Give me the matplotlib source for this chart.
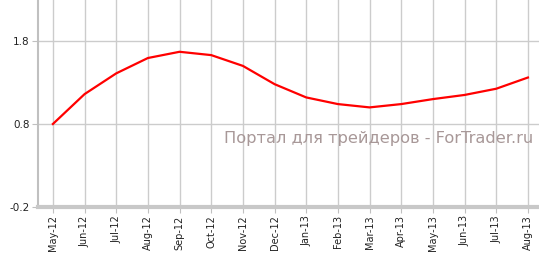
import matplotlib
matplotlib.use('Agg')
import matplotlib.pyplot as plt

months = ['May-12', 'Jun-12', 'Jul-12', 'Aug-12', 'Sep-12', 'Oct-12', 'Nov-12', 'Dec-12',
          'Jan-13', 'Feb-13', 'Mar-13', 'Apr-13', 'May-13', 'Jun-13', 'Jul-13', 'Aug-13']
values = [0.80, 1.16, 1.41, 1.595, 1.67, 1.63, 1.50, 1.28,
          1.12, 1.04, 1.00, 1.04, 1.10, 1.15, 1.225, 1.36]
yticks = [-0.2, 0.8, 1.8]

fig = plt.figure(figsize=(5.39, 2.58), dpi=100)
ax = fig.add_axes([38 / 539, 1 - 207 / 258, 1 - 38 / 539, 207 / 258])

x = range(len(months))
ax.plot(x, values, color='#ff0000', linewidth=1.6, solid_joinstyle='round', zorder=3)

ax.set_xlim(-0.47, len(months) - 1 + 0.35)
ax.set_ylim(-0.2, 1.8 + 41 / 83)
ax.set_xticks(list(x))
ax.set_xticklabels(months, rotation=90, fontsize=7, color='#222222')
ax.set_yticks(yticks)
ax.set_yticklabels([f'{v:.1f}' for v in yticks], fontsize=7.5, color='#222222')

ax.grid(True, color='#cccccc', linewidth=1)
ax.set_axisbelow(True)
for s in ['top', 'right']:
    ax.spines[s].set_visible(False)
ax.spines['left'].set_color('#c0c0c0')
ax.spines['left'].set_linewidth(1.5)
ax.spines['bottom'].set_color('#c8c8c8')
ax.spines['bottom'].set_linewidth(3)
ax.tick_params(axis='both', color='#c0c0c0', length=4, pad=2)

ax.text(0.988, 0.33, 'Портал для трейдеров - ForTrader.ru', transform=ax.transAxes,
        ha='right', va='center', fontsize=11.7, color='#a89898')

fig.savefig('out.png', dpi=100)
